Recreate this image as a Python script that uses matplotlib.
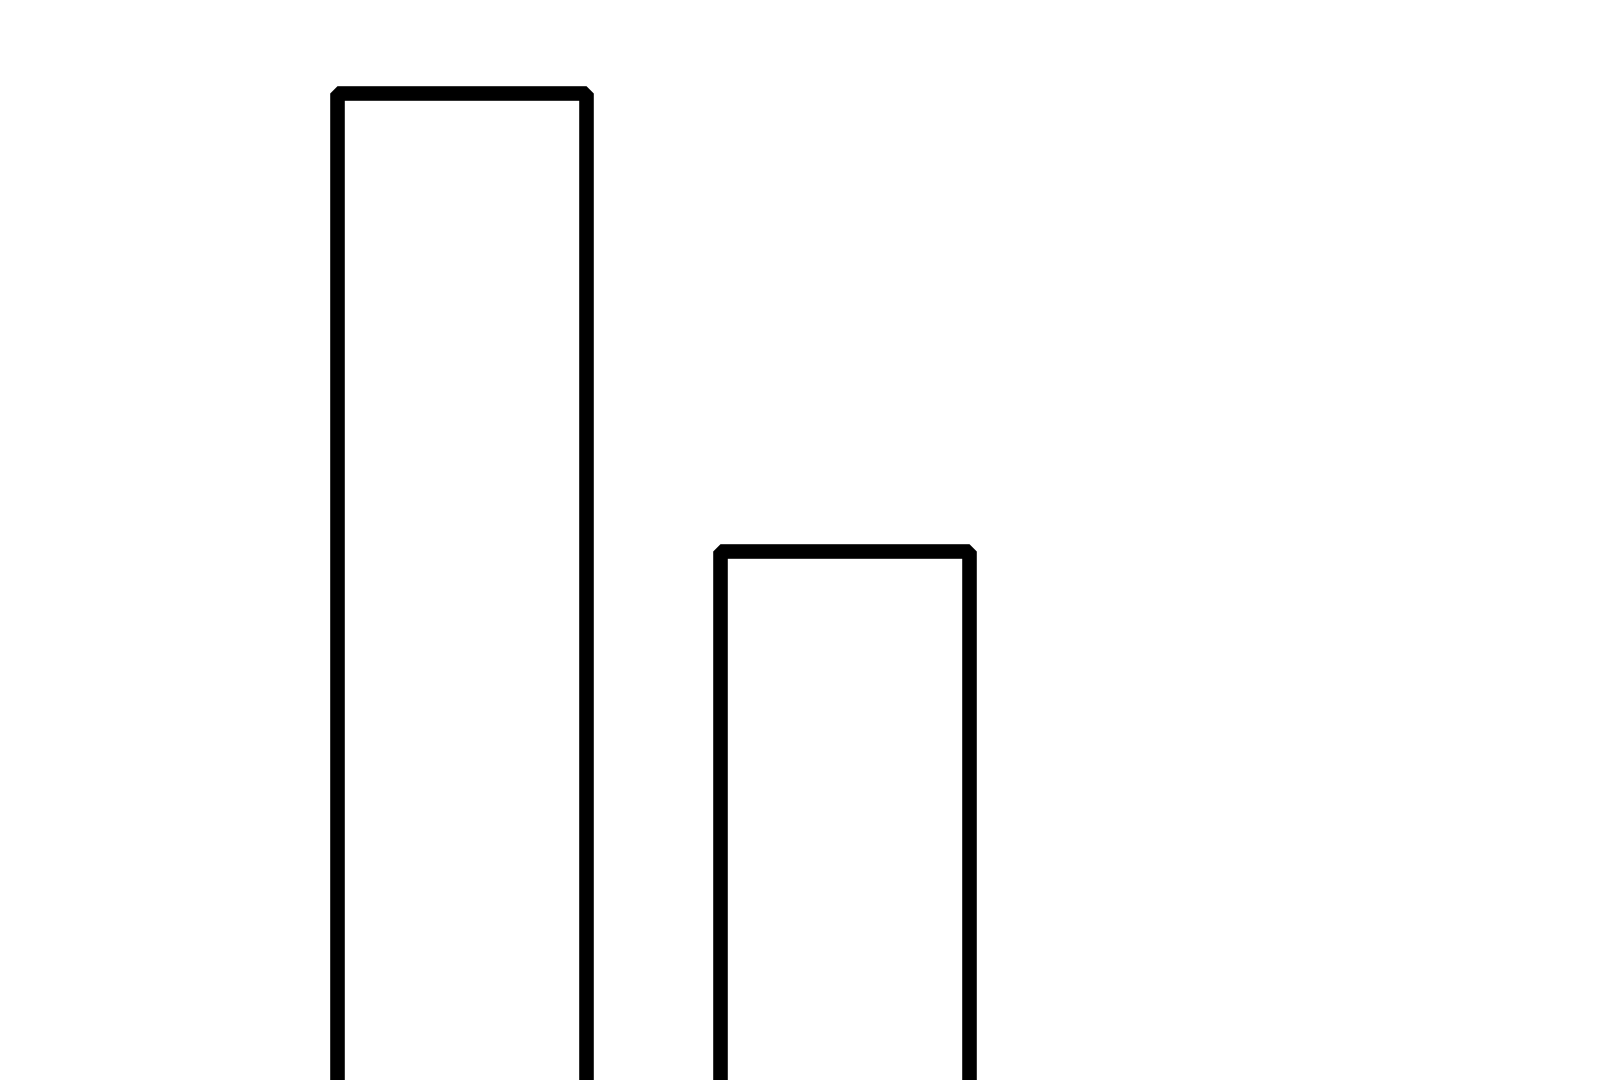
import matplotlib
matplotlib.use("Agg")
import matplotlib.pyplot as plt

categories = ["A", "B"]
values     = [9, 5]


def plot_bars():
    fig = plt.figure(figsize=(16, 10.8), dpi=100)
    ax  = fig.add_axes([0, 0, 1, 1])

    x = list(range(len(categories)))
    bars = ax.bar(x, values, width=0.65, color="white",
                  edgecolor="black", linewidth=10.5)
    for b in bars:
        b.set_joinstyle("bevel")

    # chart is cropped: bars run off the bottom edge
    ax.set_xlim(-1.204, 2.974)
    ax.set_ylim(0.39, 9.81)
    ax.axis("off")

    fig.savefig("out.png", dpi=100, facecolor="white")
    plt.close(fig)


if __name__ == "__main__":
    plot_bars()
